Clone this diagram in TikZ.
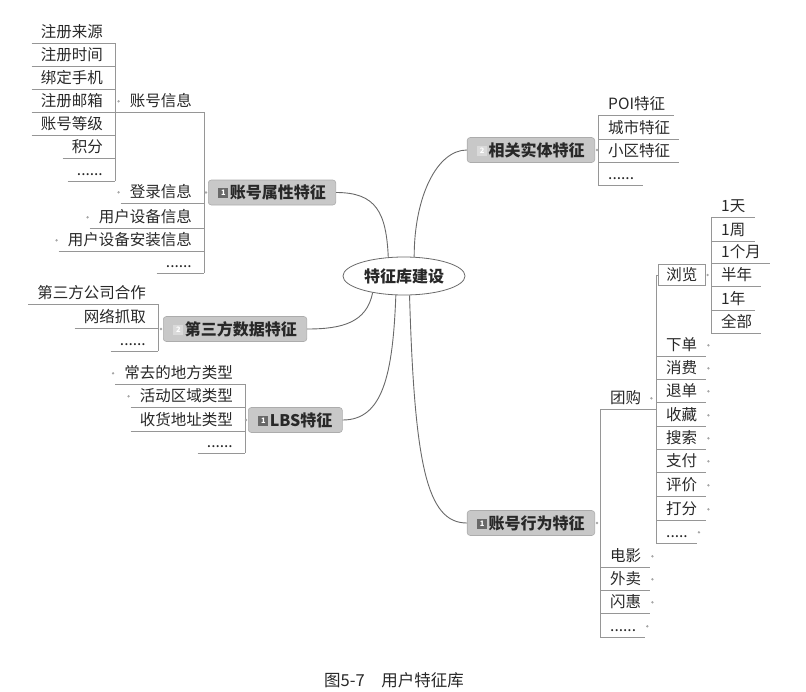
\documentclass[tikz,border=0pt]{standalone}
\usepackage{fontspec}
\setmainfont{Noto Sans CJK SC}
\usepackage{tikz}
\usetikzlibrary{shapes.geometric}
\usepackage{xcolor}
\definecolor{topicfill}{RGB}{200,200,200}
\definecolor{topicline}{RGB}{172,172,172}
\definecolor{linegray}{RGB}{150,150,150}
\definecolor{curvegray}{RGB}{105,105,105}
\definecolor{textgray}{RGB}{40,40,40}
\definecolor{tagdark}{RGB}{105,105,105}
\definecolor{taglight}{RGB}{218,218,218}
\definecolor{dotgray}{RGB}{165,165,165}
\newcommand{\leaffont}{\fontsize{15.5}{18}\selectfont}
\newcommand{\numtag}[2]{\raisebox{0.5pt}{\setlength{\fboxsep}{0pt}\colorbox{#1}{\makebox[10pt]{\rule{0pt}{10pt}\raisebox{2.5pt}{\color{white}\fontsize{7.5}{8}\selectfont #2}}}}\hspace{1.5pt}}

\begin{document}
\begin{tikzpicture}[
    x=1pt, y=-1pt,
    rule/.style={draw=linegray, line width=0.6pt},
    curve/.style={draw=curvegray, line width=0.9pt},
    leafl/.style={anchor=south east, inner xsep=0pt, inner ysep=3pt,
                  text height=13pt, text depth=2pt, font=\leaffont, text=textgray,
                  execute at begin node={\hspace{9pt}}, execute at end node={\hspace{12pt}},
                  append after command={(\tikzlastnode.south west) edge[rule] (\tikzlastnode.south east)}},
    leafr/.style={anchor=south west, inner xsep=0pt, inner ysep=3pt,
                  text height=13pt, text depth=2pt, font=\leaffont, text=textgray,
                  execute at begin node={\hspace{10pt}}, execute at end node={\hspace{9pt}},
                  append after command={(\tikzlastnode.south west) edge[rule] (\tikzlastnode.south east)}},
    topic/.style={rectangle, rounded corners=3pt, fill=topicfill, draw=topicline, line width=0.6pt,
                  minimum height=25pt, inner xsep=10pt, inner ysep=0pt,
                  text height=12pt, text depth=0pt, font=\bfseries\fontsize{16}{18}\selectfont, text=textgray},
    hub/.style={ellipse, draw=curvegray, fill=white, line width=0.8pt,
                minimum width=122pt, minimum height=38pt, inner sep=0pt,
                text height=12pt, text depth=0pt, font=\bfseries\fontsize{16}{18}\selectfont, text=textgray},
    browse/.style={rectangle, draw=linegray, fill=white, line width=0.6pt, anchor=west,
                   inner xsep=8pt, inner ysep=4pt, text height=12pt, text depth=1pt,
                   font=\leaffont, text=textgray}
]
\useasboundingbox (0,0) rectangle (806,691);
\node[hub] (root) at (404,276) {特征库建设};
\node[topic, anchor=west] (t1) at (208,192.5) {\numtag{tagdark}{1}账号属性特征};
\node[topic, anchor=east] (t2) at (595,150) {\numtag{taglight}{2}相关实体特征};
\node[topic, anchor=west] (t3) at (163,329) {\numtag{taglight}{2}第三方数据特征};
\node[topic, anchor=west] (t4) at (248,420) {\numtag{tagdark}{1}LBS特征};
\node[topic, anchor=east] (t5) at (595,523) {\numtag{tagdark}{1}账号行为特征};

\node[leafl] (a1) at (115,43) {注册来源};
\node[leafl] (a2) at (115,66) {注册时间};
\node[leafl] (a3) at (115,89) {绑定手机};
\node[leafl] (a4) at (115,112) {注册邮箱};
\node[leafl] (a5) at (115,135) {账号等级};
\node[leafl] (a6) at (115,158) {积分};
\node[leafl] (a7) at (115,181) {......};
\node[leafl] (b1) at (204,112) {账号信息};
\node[leafl] (b2) at (204,203) {登录信息};
\node[leafl] (b3) at (204,228) {用户设备信息};
\node[leafl] (b4) at (204,251) {用户设备安装信息};
\node[leafl] (b5) at (204,273) {......};

\node[leafr] (c1) at (598,115) {POI特征};
\node[leafr] (c2) at (598,139) {城市特征};
\node[leafr] (c3) at (598,162) {小区特征};
\node[leafr] (c4) at (598,185) {......};

\node[leafl] (d1) at (158,304) {第三方公司合作};
\node[leafl] (d2) at (158,328) {网络抓取};
\node[leafl] (d3) at (158,351) {......};

\node[leafl] (e1) at (245,384) {常去的地方类型};
\node[leafl] (e2) at (245,407) {活动区域类型};
\node[leafl] (e3) at (245,431) {收货地址类型};
\node[leafl] (e4) at (245,453) {......};

\node[leafr] (f1) at (600,409) {团购};
\node[leafr] (f2) at (600,567) {电影};
\node[leafr] (f3) at (600,590) {外卖};
\node[leafr] (f4) at (600,613) {闪惠};
\node[leafr] (f5) at (600,637) {......};

\node[browse] (g0) at (658,275) {浏览};
\node[leafr] (g1) at (656,356) {下单};
\node[leafr] (g2) at (656,379) {消费};
\node[leafr] (g3) at (656,402) {退单};
\node[leafr] (g4) at (656,426) {收藏};
\node[leafr] (g5) at (656,449) {搜索};
\node[leafr] (g6) at (656,472) {支付};
\node[leafr] (g7) at (656,496) {评价};
\node[leafr] (g8) at (656,520) {打分};
\node[leafr] (g9) at (656,543) {.....};

\node[leafr] (h1) at (711,217) {1天};
\node[leafr] (h2) at (711,241) {1周};
\node[leafr] (h3) at (711,263) {1个月};
\node[leafr] (h4) at (711,286) {半年};
\node[leafr] (h5) at (711,310) {1年};
\node[leafr] (h6) at (711,333) {全部};

\node[font=\fontsize{16.5}{19}\selectfont, text=textgray] (cap) at (394,680) {图5-7\quad 用户特征库};

\draw[rule] (a1.south east) -- (a7.south east);
\draw[rule] (b1.south west) -- (a4.south east);
\draw[rule] (b1.south east) -- (b5.south east);
\draw[rule] (c1.south west) -- (c4.south west);
\draw[rule] (d1.south east) -- (d3.south east);
\draw[rule] (e1.south east) -- (e4.south east);
\draw[rule] (f1.south west) -- (f5.south west);
\draw[rule] (f1.south east) -- (f1.south east -| g9.south west);
\draw[rule] (g0.west) -- (g0.west -| g9.south west) -- (g9.south west);
\draw[rule] (h1.south west) -- (h6.south west);

\draw[curve] (t1.east) .. controls +(40,0) and +(-2,-45) .. (root.130);
\draw[curve] (root.62) .. controls +(0,-60) and +(-30,0) .. (t2.west);
\draw[curve] (root.208) .. controls +(-6,30) and +(35,0) .. (t3.east);
\draw[curve] (root.247) .. controls +(-3,80) and +(40,0) .. (t4.east);
\draw[curve] (root.286) .. controls +(5,170) and +(-40,0) .. (t5.west);

\fill[dotgray] ([xshift=-2pt]b1.west) circle (1.3pt) ([xshift=-2pt]b2.west) circle (1.3pt)
    ([xshift=-2pt]b3.west) circle (1.3pt) ([xshift=-2pt]b4.west) circle (1.3pt)
    ([xshift=-2pt]e1.west) circle (1.3pt) ([xshift=-2pt]e2.west) circle (1.3pt)
    ([xshift=-2pt]t1.west) circle (1.3pt) ([xshift=2pt]t2.east) circle (1.3pt)
    ([xshift=-2pt]t3.west) circle (1.3pt) ([xshift=-2pt]t4.west) circle (1.3pt)
    ([xshift=2pt]t5.east) circle (1.3pt) ([xshift=1pt]f1.east) circle (1.3pt)
    ([xshift=2pt]g0.east) circle (1.3pt)
    ([xshift=2pt]g1.east) circle (1.3pt) ([xshift=2pt]g2.east) circle (1.3pt)
    ([xshift=2pt]g3.east) circle (1.3pt) ([xshift=2pt]g4.east) circle (1.3pt)
    ([xshift=2pt]g5.east) circle (1.3pt) ([xshift=2pt]g6.east) circle (1.3pt)
    ([xshift=2pt]g7.east) circle (1.3pt) ([xshift=2pt]g8.east) circle (1.3pt)
    ([xshift=2pt]g9.east) circle (1.3pt)
    ([xshift=2pt]f2.east) circle (1.3pt) ([xshift=2pt]f3.east) circle (1.3pt)
    ([xshift=2pt]f4.east) circle (1.3pt) ([xshift=2pt]f5.east) circle (1.3pt);
\end{tikzpicture}
\end{document}
